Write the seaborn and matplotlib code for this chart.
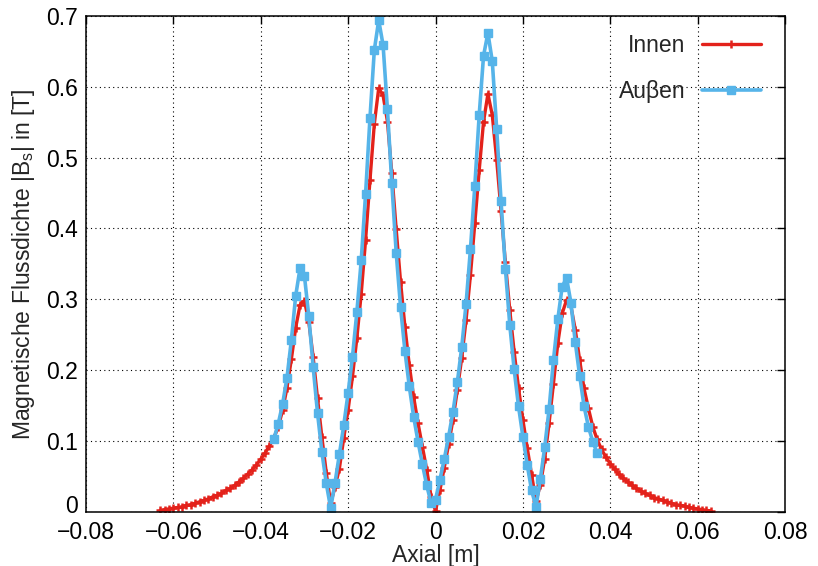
import matplotlib
matplotlib.use("Agg")
import matplotlib.pyplot as plt
import matplotlib.transforms as mtransforms
from matplotlib.ticker import FixedLocator, FuncFormatter
import seaborn as sns
import pandas as pd

# ---------------- data ----------------
innen_x_mm = [-63, -62, -61, -60, -59, -58, -57, -56, -55, -54,
              -53, -52, -51, -50, -49, -48, -47, -46, -45, -44,
              -43, -42, -41, -40, -39, -38, -37, -36, -35, -34,
              -33, -32, -31, -30, -29, -28, -27, -26, -25, -24,
              -23, -22, -21, -20, -19, -18, -17, -16, -15, -14,
              -13, -12, -11, -10, -9, -8, -7, -6, -5, -4,
              -3, -2, -1, 0, 1, 2, 3, 4, 5, 6,
              7, 8, 9, 10, 11, 12, 13, 14, 15, 16,
              17, 18, 19, 20, 21, 22, 23, 24, 25, 26,
              27, 28, 29, 30, 31, 32, 33, 34, 35, 36,
              37, 38, 39, 40, 41, 42, 43, 44, 45, 46,
              47, 48, 49, 50, 51, 52, 53, 54, 55, 56,
              57, 58, 59, 60, 61, 62, 63]
innen_B = [0.002, 0.003, 0.004, 0.005, 0.006, 0.007, 0.009, 0.010, 0.012, 0.014,
           0.016, 0.018, 0.021, 0.023, 0.026, 0.030, 0.033, 0.037, 0.042, 0.047,
           0.053, 0.059, 0.066, 0.074, 0.083, 0.093, 0.104, 0.120, 0.143, 0.175,
           0.215, 0.260, 0.292, 0.298, 0.268, 0.218, 0.160, 0.105, 0.055, 0.012,
           0.035, 0.061, 0.104, 0.144, 0.191, 0.245, 0.308, 0.384, 0.468, 0.548,
           0.598, 0.588, 0.551, 0.478, 0.399, 0.325, 0.261, 0.207, 0.162, 0.125,
           0.092, 0.059, 0.021, 0.001, 0.030, 0.062, 0.095, 0.130, 0.172, 0.217,
           0.271, 0.334, 0.407, 0.482, 0.551, 0.590, 0.560, 0.497, 0.425, 0.352,
           0.285, 0.226, 0.175, 0.130, 0.090, 0.052, 0.015, 0.038, 0.075, 0.125,
           0.181, 0.238, 0.280, 0.299, 0.290, 0.257, 0.214, 0.174, 0.146, 0.120,
           0.102, 0.088, 0.077, 0.068, 0.060, 0.053, 0.047, 0.042, 0.037, 0.033,
           0.029, 0.026, 0.023, 0.020, 0.018, 0.016, 0.014, 0.012, 0.010, 0.009,
           0.008, 0.006, 0.005, 0.004, 0.003, 0.002, 0.001]

aussen_x_mm = [-37, -36, -35, -34, -33, -32, -31, -30, -29, -28,
               -27, -26, -25, -24, -23, -22, -21, -20, -19, -18,
               -17, -16, -15, -14, -13, -12, -11, -10, -9, -8,
               -7, -6, -5, -4, -3, -2, -1, 0, 1, 2,
               3, 4, 5, 6, 7, 8, 9, 10, 11, 12,
               13, 14, 15, 16, 17, 18, 19, 20, 21, 22,
               23, 24, 25, 26, 27, 28, 29, 30, 31, 32,
               33, 34, 35, 36, 37]
aussen_B = [0.103, 0.124, 0.152, 0.189, 0.242, 0.305, 0.344, 0.333, 0.276, 0.204,
            0.139, 0.084, 0.040, 0.005, 0.041, 0.081, 0.122, 0.168, 0.219, 0.282,
            0.355, 0.449, 0.556, 0.652, 0.694, 0.659, 0.568, 0.464, 0.366, 0.289,
            0.227, 0.177, 0.134, 0.099, 0.067, 0.037, 0.012, 0.017, 0.045, 0.074,
            0.106, 0.141, 0.183, 0.232, 0.294, 0.371, 0.460, 0.560, 0.644, 0.676,
            0.636, 0.541, 0.439, 0.343, 0.264, 0.201, 0.149, 0.106, 0.066, 0.030,
            0.007, 0.046, 0.091, 0.145, 0.214, 0.272, 0.318, 0.330, 0.295, 0.239,
            0.192, 0.149, 0.120, 0.099, 0.083]

x_ticks = [-0.08, -0.06, -0.04, -0.02, 0.0, 0.02, 0.04, 0.06, 0.08]
y_ticks = [0.0, 0.1, 0.2, 0.3, 0.4, 0.5, 0.6, 0.7]
series_labels = ["Innen", "Auβen"]
x_label = "Axial [m]"
y_label = r"Magnetische Flussdichte |B$_\mathregular{s}$| in [T]"

# ---------------- style ----------------
sns.set_style("white")
plt.rcParams["font.family"] = ["Liberation Sans", "DejaVu Sans"]
plt.rcParams["mathtext.fontset"] = "custom"
plt.rcParams["mathtext.rm"] = "Liberation Sans"
plt.rcParams["legend.numpoints"] = 1

FS = 16.5
RED = "#e3221b"
BLUE = "#56b4e9"

df_in = pd.DataFrame({"x": [v / 1000 for v in innen_x_mm], "B": innen_B})
df_out = pd.DataFrame({"x": [v / 1000 for v in aussen_x_mm], "B": aussen_B})

fig = plt.figure(figsize=(8.18, 5.66), dpi=100)
ax = fig.add_axes([86 / 818, 1 - 511.7 / 566, (785 - 86) / 818, (511.7 - 16) / 566])

sns.lineplot(data=df_in, x="x", y="B", ax=ax, color=RED, lw=2.4,
             marker="+", ms=6, mew=1.8, mec=RED, label=series_labels[0], sort=False)
sns.lineplot(data=df_out, x="x", y="B", ax=ax, color=BLUE, lw=2.6,
             marker="s", ms=6.3, mew=1.0, mec=BLUE, mfc=BLUE, label=series_labels[1], sort=False)

ax.set_xlim(-0.08, 0.08)
ax.set_ylim(0, 0.7)
ax.xaxis.set_major_locator(FixedLocator(x_ticks))
ax.yaxis.set_major_locator(FixedLocator(y_ticks))
fmt = FuncFormatter(lambda v, p: ("%g" % round(v, 4)).replace("-", "\u2212"))
ax.xaxis.set_major_formatter(fmt)
ax.yaxis.set_major_formatter(fmt)

ax.tick_params(axis="both", which="major", direction="in", length=6, width=1.0,
               top=True, right=True, labelsize=FS, colors="black")
ax.tick_params(axis="x", pad=7)
ax.tick_params(axis="y", pad=6)

# nudge the y "0" label up a little so it clears the "-0.08" x label
fig.canvas.draw()
ylab0 = ax.yaxis.get_major_ticks()[0].label1
ylab0.set_transform(ylab0.get_transform() +
                    mtransforms.ScaledTranslation(0, 5.5 / 72, fig.dpi_scale_trans))

ax.grid(True, color="black", linestyle=(0, (1, 3)), lw=0.8)
ax.set_axisbelow(True)
for s in ax.spines.values():
    s.set_visible(True)
    s.set_color("black")
    s.set_linewidth(1.1)

ax.set_xlabel(x_label, fontsize=FS, labelpad=0)
ax.set_ylabel(y_label, fontsize=FS, labelpad=6)

leg = ax.legend(loc="upper right", bbox_to_anchor=(0.966, 0.963), frameon=False,
                markerfirst=False, fontsize=FS, handlelength=2.6, handletextpad=0.7,
                labelspacing=0.97, borderpad=0.0, borderaxespad=0.0)

fig.savefig("out.png", dpi=100)
